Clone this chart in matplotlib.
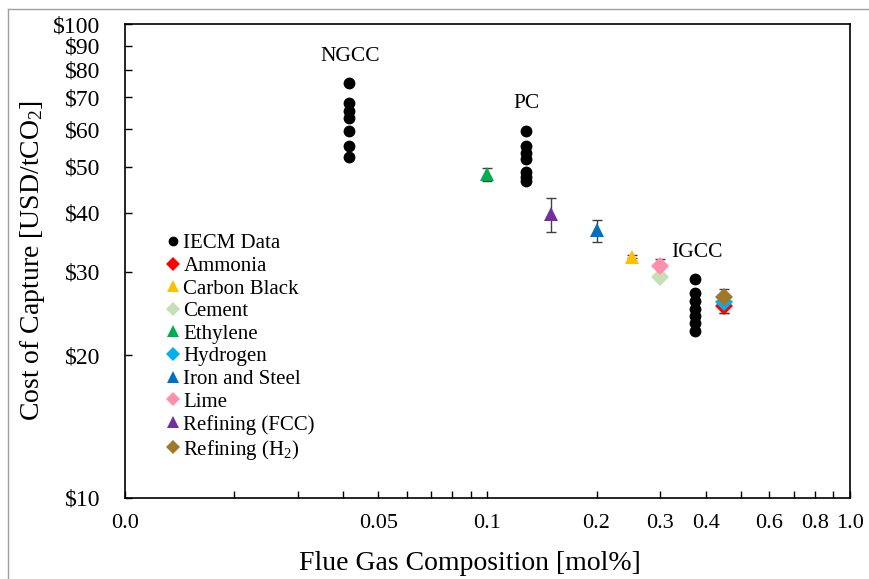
#!/usr/bin/env python3
"""Cost of capture vs flue gas CO2 composition (log-log scatter)"""

import matplotlib
matplotlib.use('Agg')
import matplotlib.pyplot as plt
from matplotlib.ticker import FixedLocator, FixedFormatter, NullLocator
from matplotlib.lines import Line2D

plt.rcParams['font.family'] = ['Liberation Serif', 'DejaVu Serif']
plt.rcParams['mathtext.fontset'] = 'custom'
plt.rcParams['mathtext.rm'] = 'Liberation Serif'
plt.rcParams['mathtext.it'] = 'Liberation Serif:italic'

# IECM power plant data (three clusters)
ngcc_x = 0.0415
ngcc_y = [75.2, 68.1, 65.5, 63.3, 59.4, 55.3, 52.4]
pc_x = 0.128
pc_y = [59.4, 55.3, 53.4, 51.9, 48.7, 47.5, 46.6]
igcc_x = 0.375
igcc_y = [28.9, 27.0, 26.0, 25.0, 24.2, 23.4, 22.5]

# industrial sources: name, x, y, lower err, upper err
industry_names = ['Ammonia', 'Carbon Black', 'Cement', 'Ethylene', 'Hydrogen',
                  'Iron and Steel', 'Lime', 'Refining (FCC)', 'Refining (H$_\\mathrm{2}$)']
industry_x = [0.45, 0.25, 0.30, 0.10, 0.45, 0.20, 0.30, 0.15, 0.45]
industry_y = [25.4, 32.3, 29.3, 48.2, 25.9, 36.7, 30.8, 39.7, 26.5]
industry_err_lo = [0.8, 0.3, 0.3, 1.5, 0.6, 2.0, 1.1, 3.3, 1.9]
industry_err_hi = [0.8, 0.3, 0.3, 1.5, 0.6, 1.9, 1.1, 3.3, 1.1]
industry_markers = ['D', '^', 'D', '^', 'D', '^', 'D', '^', 'D']
industry_colors = ['#FF0000', '#FFC000', '#C5E0B4', '#00B050', '#00B0F0',
                   '#0070C0', '#FF8FAB', '#7030A0', '#A0782A']

x_ticks = [0.01, 0.02, 0.03, 0.04, 0.05, 0.06, 0.07, 0.08, 0.09,
           0.1, 0.2, 0.3, 0.4, 0.5, 0.6, 0.7, 0.8, 0.9, 1.0]
x_labels = ['0.0', '', '', '', '0.05', '', '', '', '',
            '0.1', '0.2', '0.3', '0.4', '', '0.6', '', '0.8', '', '1.0']
y_ticks = [10, 20, 30, 40, 50, 60, 70, 80, 90, 100]
y_labels = ['$%d' % v for v in y_ticks]

fig = plt.figure(figsize=(8.69, 5.79), dpi=100)
ax = fig.add_axes([0.1438, 0.1404, 0.8342, 0.8181])

# gray frame around figure (left and top edges visible)
fig.add_artist(Line2D([0.0092, 0.0092], [0.0, 0.9845], color='#A0A0A0', lw=1))
fig.add_artist(Line2D([0.0092, 1.0], [0.9845, 0.9845], color='#A0A0A0', lw=1))

handles = []
iecm_x = [ngcc_x] * len(ngcc_y) + [pc_x] * len(pc_y) + [igcc_x] * len(igcc_y)
iecm_y = ngcc_y + pc_y + igcc_y
h, = ax.plot(iecm_x, iecm_y, 'o', color='black', markersize=7.5, label='IECM Data', zorder=3)
handles.append(h)

for name, x, y, lo, hi, m, c in zip(industry_names, industry_x, industry_y,
                                    industry_err_lo, industry_err_hi,
                                    industry_markers, industry_colors):
    ax.errorbar([x], [y], yerr=[[lo], [hi]], fmt='none', ecolor='#404040',
                elinewidth=1, capsize=3.5, capthick=1, zorder=3)
    ms = 9 if m == 'D' else 10.5
    h, = ax.plot([x], [y], m, color=c, markersize=ms, markeredgewidth=0,
                 label=name, zorder=4)
    handles.append(h)

ax.set_xscale('log')
ax.set_yscale('log')
ax.set_xlim(0.01, 1.0)
ax.set_ylim(10, 100)

ax.xaxis.set_major_locator(FixedLocator(x_ticks))
ax.xaxis.set_major_formatter(FixedFormatter(x_labels))
ax.xaxis.set_minor_locator(NullLocator())
ax.yaxis.set_major_locator(FixedLocator(y_ticks))
ax.yaxis.set_major_formatter(FixedFormatter(y_labels))
ax.yaxis.set_minor_locator(NullLocator())
ax.tick_params(direction='in', length=5, width=1, labelsize=16, color='black')
ax.tick_params(axis='x', pad=12)
ax.tick_params(axis='y', pad=17.5, labelsize=17)
for s in ax.spines.values():
    s.set_linewidth(1.2)

ax.set_xlabel('Flue Gas Composition [mol%]', fontsize=20)
ax.set_ylabel('Cost of Capture [USD/tCO$_\\mathrm{2}$]', fontsize=20)
ax.xaxis.set_label_coords(0.476, -0.112)
ax.yaxis.set_label_coords(-0.108, 0.50)

ax.text(0.0418, 85.2, 'NGCC', fontsize=15.5, ha='center', va='center')
ax.text(0.128, 68.1, 'PC', fontsize=15.5, ha='center', va='center')
ax.text(0.3775, 33.0, 'IGCC', fontsize=15.5, ha='center', va='center')

ax.legend(handles=handles, loc='upper left', bbox_to_anchor=(0.036, 0.588),
          frameon=False, fontsize=15, handlelength=0.7, handletextpad=0.15,
          labelspacing=0.145, borderpad=0.2, markerscale=0.8)

fig.savefig('out.png', dpi=100)
